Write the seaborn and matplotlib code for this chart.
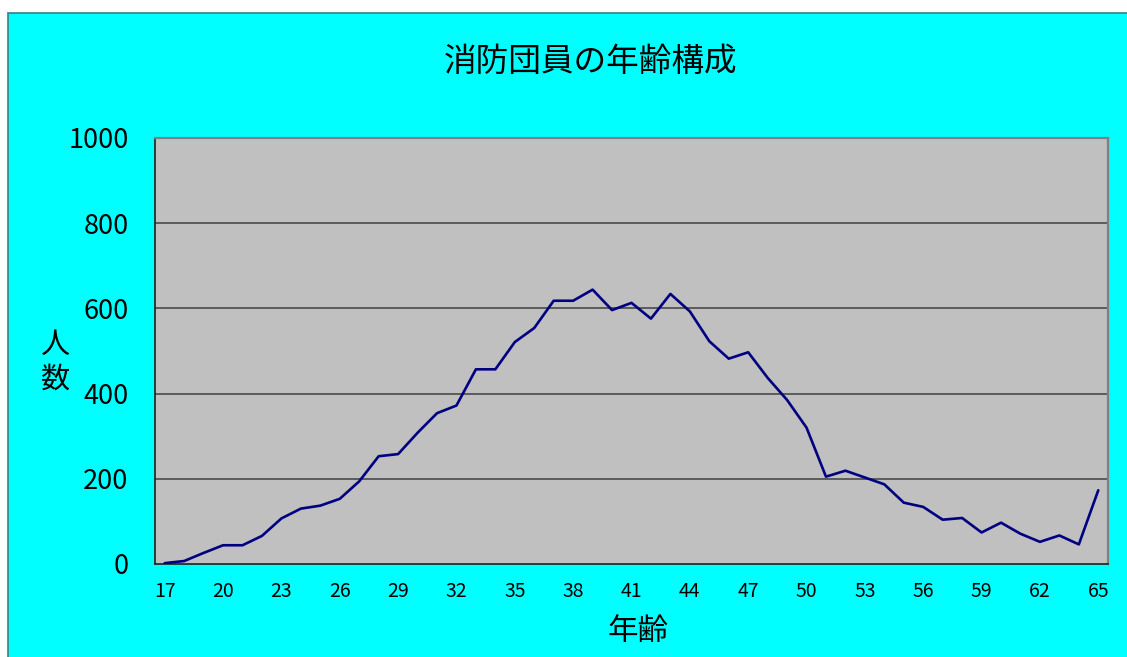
import matplotlib
matplotlib.use("Agg")
import matplotlib.pyplot as plt
from matplotlib.patches import Rectangle
import seaborn as sns
import pandas as pd

ages = list(range(17, 66))
members = [2, 7, 26, 44, 44, 66, 107, 130, 137, 153,
           194, 253, 258, 308, 354, 372, 457, 457, 521, 554,
           618, 618, 644, 596, 613, 576, 634, 593, 523, 482,
           497, 437, 385, 320, 205, 219, 203, 187, 144, 134,
           104, 108, 74, 97, 71, 52, 67, 46, 173]
xtick_labels = list(range(17, 66, 3))
ytick_values = [0, 200, 400, 600, 800, 1000]

title = "消防団員の年齢構成"
xlabel = "年齢"
ylabel = "人\n数"

sns.set_style("white")
plt.rcParams['font.family'] = ['Noto Sans CJK JP', 'DejaVu Sans']
plt.rcParams['text.color'] = 'black'
plt.rcParams['axes.labelcolor'] = 'black'
plt.rcParams['xtick.color'] = 'black'
plt.rcParams['ytick.color'] = 'black'

W, H = 1127, 657
fig = plt.figure(figsize=(W / 100, H / 100), dpi=100, facecolor="white")
# cyan chart area
fig.patches.append(Rectangle((8 / W, -0.02), 1.02, (H - 13) / H + 0.02,
                             transform=fig.transFigure, facecolor="#00FFFF",
                             edgecolor="#3a7f7f", linewidth=1.2, zorder=-10))

left, right = 155 / W, 1108 / W
top, bottom = 1 - 138 / H, 1 - 564 / H
ax = fig.add_axes([left, bottom, right - left, top - bottom])
ax.set_facecolor("#C0C0C0")

df = pd.DataFrame({"age": ages, "members": members})
sns.lineplot(data=df, x="age", y="members", ax=ax, color="#000080",
             linewidth=1.9, zorder=3)

ax.set_xlim(16.5, 65.5)
ax.set_ylim(0, 1000)
ax.set_yticks(ytick_values)
ax.set_yticklabels([str(v) for v in ytick_values], fontsize=19.5)
ax.set_xticks(xtick_labels)
ax.set_xticklabels([str(v) for v in xtick_labels], fontsize=14)
ax.set_xticks([a - 0.5 for a in ages] + [65.5], minor=True)
ax.tick_params(axis="x", which="major", length=0, pad=12)
ax.tick_params(axis="x", which="minor", direction="in", length=5, width=1, color="#202020")
ax.tick_params(axis="y", which="major", direction="in", length=5, width=1, color="#202020", pad=19)

for v in ytick_values[1:-1]:
    ax.axhline(v, color="#404040", linewidth=1.1, zorder=1)

for s in ["left", "bottom"]:
    ax.spines[s].set_color("#202020")
    ax.spines[s].set_linewidth(1.2)
for s in ["top", "right"]:
    ax.spines[s].set_color("#808080")
    ax.spines[s].set_linewidth(1.6)
    ax.spines[s].set_visible(True)

ax.set_xlabel(xlabel, fontsize=22)
ax.xaxis.set_label_coords((638 / W - left) / (right - left), -(632 - 564) / (564 - 138))
ax.xaxis.label.set_verticalalignment("center")
ax.set_ylabel(ylabel, fontsize=21, rotation=0, linespacing=1.2)
ax.yaxis.set_label_coords(-100 / (right - left) / W, 0.474)
ax.yaxis.label.set_verticalalignment("center")
ax.yaxis.label.set_horizontalalignment("center")

fig.text(591 / W, 1 - 62 / H, title, fontsize=23.5, ha="center", va="center")

fig.savefig("out.png", dpi=100, facecolor="white")
